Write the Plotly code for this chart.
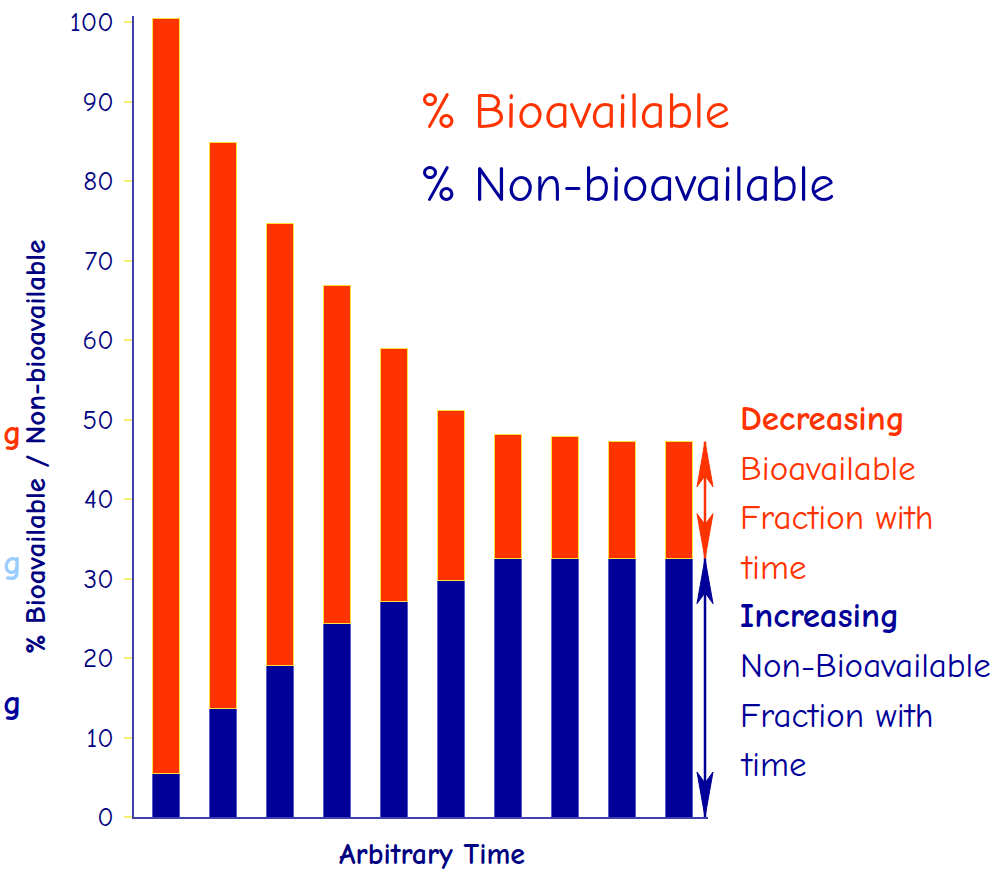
import plotly.graph_objects as go

# ---- data ----
time_points = [1, 2, 3, 4, 5, 6, 7, 8, 9, 10]
non_bioavailable = [5.5, 13.6, 19.0, 24.4, 27.1, 29.8, 32.5, 32.5, 32.5, 32.5]
bioavailable = [95.0, 71.3, 55.7, 42.5, 31.8, 21.3, 15.6, 15.3, 14.7, 14.7]
y_ticks = [0, 10, 20, 30, 40, 50, 60, 70, 80, 90, 100]

ORANGE = "#FF3300"
NAVY = "#000099"
TEXT_NAVY = "#000080"
FONT = "Comic Sans MS, Comic Neue, Lato, sans-serif"

W_PX, H_PX = 997, 873
# plot area in page pixel coordinates
L, R, T, B = 134, 708, 16, 817
plot_w, plot_h = R - L, B - T
PX_PER_UNIT = 7.95

def px_x(p):
    return (p - L) / plot_w

def px_y(p):
    return (B - p) / plot_h

fig = go.Figure()
fig.add_trace(go.Bar(
    x=time_points, y=non_bioavailable, name="% Non-bioavailable",
    marker=dict(color=NAVY, line=dict(color="#5A5AC8", width=1)),
    width=0.46,
))
fig.add_trace(go.Bar(
    x=time_points, y=bioavailable, name="% Bioavailable",
    marker=dict(color=ORANGE, line=dict(color="#FFE040", width=1)),
    width=0.46,
))

ymax = plot_h / PX_PER_UNIT

fig.update_layout(
    barmode="stack",
    width=W_PX, height=H_PX,
    margin=dict(l=L, r=W_PX - R, t=T, b=H_PX - B, autoexpand=False),
    plot_bgcolor="white", paper_bgcolor="white",
    showlegend=False,
    font=dict(family=FONT, color=TEXT_NAVY),
    xaxis=dict(range=[0.44, 10.51], showgrid=False, zeroline=False,
               showticklabels=False, ticks="",
               showline=True, linecolor="#4040B0", linewidth=2),
    yaxis=dict(range=[0, ymax], showgrid=False, zeroline=False,
               tickmode="array", tickvals=y_ticks,
               ticks="outside", tickcolor="#F5F070", ticklen=8, tickwidth=2,
               ticklabelstandoff=5, ticklabeloverflow="allow",
               tickfont=dict(size=27, color=TEXT_NAVY, family=FONT),
               showline=True, linecolor="#4040B0", linewidth=2),
)

ann = []
def txt_ann(text, xp, yp, size, color, xanchor="center", angle=0):
    return dict(text=text, textangle=angle, xref="paper", yref="paper",
                x=px_x(xp), y=px_y(yp), xanchor=xanchor, yanchor="middle",
                showarrow=False, font=dict(size=size, color=color, family=FONT))

# axis titles
ann.append(txt_ann("<b>% Bioavailable / Non-bioavailable</b>", 35, 447, 29, TEXT_NAVY, angle=-90))
ann.append(txt_ann("<b>Arbitrary Time</b>", 432, 855, 30, TEXT_NAVY))
# legend-like labels
ann.append(txt_ann("% Bioavailable", 418, 112, 51, ORANGE, xanchor="left"))
ann.append(txt_ann("% Non-bioavailable", 418, 185, 51, NAVY, xanchor="left"))
# right side notes
notes = [("<b>Decreasing</b>", 418, ORANGE), ("Bioavailable", 468, ORANGE),
         ("Fraction with", 517, ORANGE), ("time", 567, ORANGE),
         ("<b>Increasing</b>", 615, NAVY), ("Non-Bioavailable", 665, NAVY),
         ("Fraction with", 715, NAVY), ("time", 764, NAVY)]
for text, yp, col in notes:
    ann.append(txt_ann(text, 738, yp, 35, col, xanchor="left"))
# letters visible on the left edge
for yp, col in [(433, ORANGE), (563, "#99CCFF"), (703, NAVY)]:
    ann.append(txt_ann("<b>g</b>", 1, yp, 34, col, xanchor="left"))

fig.update_layout(annotations=ann)

# double-headed arrows with long narrow heads
total_last = non_bioavailable[-1] + bioavailable[-1]
ax = px_x(705)
head_len, notch, half_w = 45 / PX_PER_UNIT, 34 / PX_PER_UNIT, 8 / plot_w
for top, bot, col in [(total_last, non_bioavailable[-1], ORANGE), (non_bioavailable[-1], 0, NAVY)]:
    fig.add_shape(type="line", xref="paper", yref="y", x0=ax, x1=ax, y0=top, y1=bot,
                  line=dict(color=col, width=2.5))
    for tip, d in [(top, -1), (bot, 1)]:
        path = (f"M {ax},{tip} L {ax - half_w},{tip + d * head_len} "
                f"L {ax},{tip + d * notch} L {ax + half_w},{tip + d * head_len} Z")
        fig.add_shape(type="path", xref="paper", yref="y", path=path,
                      fillcolor=col, line=dict(color=col, width=1))

fig.write_html("out.html", config={"displayModeBar": False},
               post_script="document.body.style.margin='0px';")
